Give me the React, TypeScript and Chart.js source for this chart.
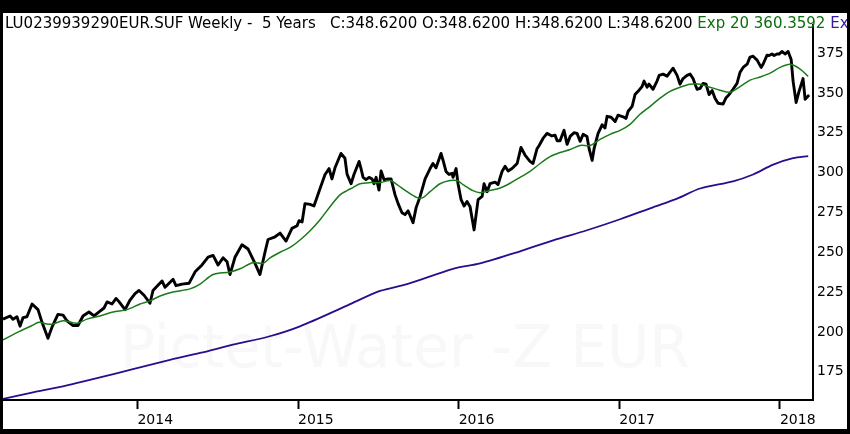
import React, { useEffect, useRef } from "react";
import { Chart, registerables } from "chart.js";

Chart.register(...registerables);

// ---- data (decimal years, values) ----
const priceDates = [
  2013.163, 2013.207, 2013.225, 2013.25, 2013.269, 2013.288, 2013.312, 2013.344, 2013.381, 2013.406,
  2013.443, 2013.468, 2013.505, 2013.537, 2013.561, 2013.599, 2013.63, 2013.661, 2013.698, 2013.73,
  2013.767, 2013.792, 2013.811, 2013.842, 2013.867, 2013.885, 2013.923, 2013.954, 2013.985, 2014.01,
  2014.041, 2014.078, 2014.097, 2014.153, 2014.172, 2014.222, 2014.24, 2014.278, 2014.321, 2014.359,
  2014.402, 2014.44, 2014.471, 2014.502, 2014.533, 2014.558, 2014.576, 2014.608, 2014.651, 2014.689,
  2014.732, 2014.763, 2014.794, 2014.813, 2014.857, 2014.888, 2014.925, 2014.962, 2014.994, 2015.006,
  2015.025, 2015.043, 2015.075, 2015.099, 2015.137, 2015.168, 2015.193, 2015.211, 2015.23, 2015.267,
  2015.292, 2015.305, 2015.33, 2015.348, 2015.38, 2015.392, 2015.405, 2015.423, 2015.442, 2015.461,
  2015.473, 2015.486, 2015.504, 2015.517, 2015.535, 2015.56, 2015.579, 2015.604, 2015.623, 2015.647,
  2015.666, 2015.685, 2015.716, 2015.735, 2015.76, 2015.791, 2015.822, 2015.84, 2015.859, 2015.89,
  2015.903, 2015.921, 2015.94, 2015.959, 2015.965, 2015.984, 2015.996, 2016.015, 2016.034, 2016.052,
  2016.071, 2016.096, 2016.121, 2016.146, 2016.158, 2016.177, 2016.195, 2016.227, 2016.245, 2016.27,
  2016.289, 2016.308, 2016.332, 2016.364, 2016.388, 2016.413, 2016.444, 2016.463, 2016.488, 2016.501,
  2016.525, 2016.55, 2016.581, 2016.6, 2016.613, 2016.631, 2016.656, 2016.675, 2016.694, 2016.718,
  2016.737, 2016.756, 2016.775, 2016.799, 2016.812, 2016.831, 2016.843, 2016.868, 2016.893, 2016.911,
  2016.924, 2016.949, 2016.974, 2016.992, 2017.024, 2017.042, 2017.055, 2017.08, 2017.098, 2017.117,
  2017.142, 2017.154, 2017.173, 2017.185, 2017.21, 2017.235, 2017.248, 2017.273, 2017.298, 2017.316,
  2017.335, 2017.36, 2017.378, 2017.397, 2017.422, 2017.441, 2017.459, 2017.484, 2017.503, 2017.522,
  2017.54, 2017.559, 2017.578, 2017.596, 2017.615, 2017.646, 2017.665, 2017.684, 2017.708, 2017.733,
  2017.752, 2017.771, 2017.796, 2017.814, 2017.833, 2017.858, 2017.883, 2017.895, 2017.92, 2017.933,
  2017.951, 2017.964, 2017.982, 2017.995, 2018.014, 2018.032, 2018.051, 2018.07, 2018.082, 2018.101,
  2018.119, 2018.144, 2018.157, 2018.182,
];
const priceValues = [
  208, 210, 208, 209.5, 203.6, 209, 209.5, 217.5, 214, 206,
  196, 203, 211, 210.5, 207, 204, 204, 210, 212.5, 210,
  213, 215, 218.8, 217.5, 221, 219, 214, 220, 224, 226,
  223, 218, 226, 232, 228, 233, 229, 230, 230.5, 237.7,
  242, 247, 248, 242, 246.5, 244, 236, 247, 254.7, 252,
  243, 236, 250, 258, 259.7, 262, 257, 265, 266.6, 269.8,
  269, 280.5, 280, 279, 290, 298.8, 302.5, 296, 303, 312,
  309, 299, 293, 298.8, 307, 302.5, 297, 295.6, 297, 296,
  293, 297, 289, 301, 295.6, 296, 296, 286, 280.5, 274.8,
  273.6, 276, 268.5, 278, 285, 296, 302.5, 305.7, 303, 312,
  307.6, 300.7, 298.8, 299.5, 297, 302.5, 293, 283, 279, 281.8,
  278.6, 264, 283, 285, 293, 288, 293, 294, 292.5, 300.7,
  304, 301, 302.5, 305.7, 315.8, 311, 307, 305.7, 315, 317,
  321.4, 324.6, 323, 323.5, 320, 320, 326.5, 317.7, 322.7, 325,
  324.6, 319.6, 324, 322.7, 315, 307.6, 315, 324.6, 330, 328,
  335.3, 334.7, 332, 336, 335, 334, 338.5, 341.6, 349, 351,
  354, 357.4, 353.6, 355.5, 352.3, 357.4, 361, 361.8, 360.5, 363,
  365.5, 361, 355.5, 359, 361, 361.8, 359, 352.3, 352.8, 356,
  355.5, 349, 351.5, 346.7, 343.5, 343, 347, 349, 352.3, 356,
  363, 366, 368, 372.5, 373, 370.6, 366, 368, 373.7, 373.5,
  374.4, 373.5, 374.4, 374.4, 376, 374.4, 376, 371, 357.4, 344,
  351, 359, 346, 348.62,
];

const ema20Dates = [
  2013.163, 2013.269, 2013.344, 2013.387, 2013.437, 2013.474, 2013.537, 2013.624, 2013.686, 2013.767,
  2013.848, 2013.935, 2014.016, 2014.078, 2014.141, 2014.222, 2014.327, 2014.39, 2014.471, 2014.576,
  2014.639, 2014.72, 2014.782, 2014.826, 2014.888, 2014.95, 2015.012, 2015.075, 2015.137, 2015.199,
  2015.261, 2015.305, 2015.342, 2015.386, 2015.448, 2015.51, 2015.573, 2015.616, 2015.679, 2015.741,
  2015.778, 2015.822, 2015.884, 2015.946, 2015.99, 2016.027, 2016.089, 2016.133, 2016.195, 2016.258,
  2016.32, 2016.382, 2016.444, 2016.507, 2016.569, 2016.631, 2016.694, 2016.756, 2016.818, 2016.88,
  2016.942, 2017.005, 2017.067, 2017.129, 2017.192, 2017.254, 2017.316, 2017.378, 2017.441, 2017.503,
  2017.565, 2017.627, 2017.69, 2017.752, 2017.814, 2017.877, 2017.939, 2018.001, 2018.063, 2018.126,
  2018.176,
];
const ema20Values = [
  195, 200.5, 204, 206, 205, 205, 207, 205.5, 208, 210,
  212.5, 214, 217.5, 219.5, 222.5, 225, 227, 230, 236, 237.6,
  239.6, 243.5, 243, 246.5, 250, 253, 257.7, 263.5, 270.4, 278.6,
  286, 288.7, 290.6, 293, 293.7, 293.7, 295, 292.5, 288, 284.3,
  284.3, 288, 293, 295, 295, 292.5, 288.7, 287.4, 288.7, 290.3,
  293.3, 297, 300.7, 305.7, 310, 312.6, 314.5, 317, 317, 320.8,
  324, 326.5, 330.3, 336.6, 341.6, 346.7, 351, 353.6, 355.5, 355.5,
  353.6, 351.7, 350.4, 354, 358, 360, 362.4, 366, 368, 365,
  360.36,
];

const ema200Dates = [
  2013.163, 2013.35, 2013.561, 2013.767, 2013.972, 2014.184, 2014.39, 2014.595, 2014.807, 2015.012,
  2015.305, 2015.51, 2015.679, 2015.965, 2016.133, 2016.382, 2016.588, 2016.799, 2017.005, 2017.21,
  2017.36, 2017.503, 2017.708, 2017.833, 2017.958, 2018.082, 2018.176,
];
const ema200Values = [
  158, 162, 166.5, 171.5, 176.6, 182, 186.8, 192, 196.8, 203.5,
  216.5, 225.7, 230, 239.6, 243, 250.6, 257.5, 263.8, 270.7, 278.2,
  283.6, 290, 294.5, 298.8, 305, 309, 310.3,
];

const yearTicks = [2014, 2015, 2016, 2017, 2018];
const valueTicks = [175, 200, 225, 250, 275, 300, 325, 350, 375];

const headerParts = [
  { text: "LU0239939290EUR.SUF Weekly -  5 Years   C:348.6200 O:348.6200 H:348.6200 L:348.6200 ", color: "#000000" },
  { text: "Exp 20 360.3592 ", color: "#0a6e0a" },
  { text: "Exp", color: "#3a1aa0" },
];
const watermarkText = "Pictet-Water -Z EUR";

const toPoints = (xs: number[], ys: number[]) => xs.map((x, i) => ({ x, y: ys[i] }));

const FONT = "'DejaVu Sans', Verdana, sans-serif";

export default function App() {
  const canvasRef = useRef<HTMLCanvasElement | null>(null);

  useEffect(() => {
    document.body.style.margin = "0";
    const canvas = canvasRef.current;
    if (!canvas) return;

    const watermark = {
      id: "watermark",
      beforeDatasetsDraw(chart: any) {
        const { ctx, chartArea } = chart;
        ctx.save();
        ctx.fillStyle = "#f8f8f8";
        ctx.font = `58px ${FONT}`;
        ctx.textAlign = "left";
        ctx.textBaseline = "alphabetic";
        ctx.fillText(watermarkText, chartArea.left + 117, chartArea.bottom - 33);
        ctx.restore();
      },
    };

    const chart = new Chart(canvas, {
      type: "line",
      data: {
        datasets: [
          {
            label: "Exp 200",
            data: toPoints(ema200Dates, ema200Values),
            borderColor: "#2a0c8c",
            borderWidth: 1.8,
            pointRadius: 0,
            tension: 0.3,
          },
          {
            label: "Exp 20",
            data: toPoints(ema20Dates, ema20Values),
            borderColor: "#1a7a1a",
            borderWidth: 1.5,
            pointRadius: 0,
            tension: 0.3,
          },
          {
            label: "Price",
            data: toPoints(priceDates, priceValues),
            borderColor: "#000000",
            borderWidth: 2.9,
            pointRadius: 0,
            tension: 0,
            borderJoinStyle: "round",
          },
        ],
      },
      options: {
        animation: false,
        responsive: false,
        devicePixelRatio: 1,
        layout: { padding: { top: 12, left: 0, right: 0, bottom: 0 } },
        plugins: {
          legend: { display: false },
          tooltip: { enabled: false },
          title: { display: false },
        },
        scales: {
          x: {
            type: "linear",
            min: 2013.163,
            max: 2018.206,
            afterBuildTicks: (scale: any) => {
              scale.ticks = yearTicks.map((v) => ({ value: v }));
            },
            afterFit: (scale: any) => {
              scale.height = 29;
            },
            grid: {
              drawOnChartArea: false,
              drawTicks: true,
              tickLength: 9,
              tickWidth: 2,
              tickColor: "#000",
              color: "#000",
            },
            border: { display: true, color: "#000", width: 2 },
            ticks: {
              autoSkip: false,
              maxRotation: 0,
              align: "start",
              padding: 3,
              color: "#000",
              font: { family: FONT, size: 14 },
              callback: (v: any) => String(v),
            },
          },
          y: {
            type: "linear",
            position: "right",
            min: 157.26,
            max: 392.37,
            afterBuildTicks: (scale: any) => {
              scale.ticks = valueTicks.map((v) => ({ value: v }));
            },
            afterFit: (scale: any) => {
              scale.width = 34;
            },
            grid: { drawOnChartArea: false, drawTicks: false },
            border: { display: true, color: "#000", width: 2 },
            ticks: {
              padding: 4,
              color: "#000",
              font: { family: FONT, size: 14 },
              callback: (v: any) => String(v),
            },
          },
        },
      },
      plugins: [watermark],
    } as any);

    return () => chart.destroy();
  }, []);

  return (
    <div style={{ position: "relative", width: 850, height: 434, background: "#000", overflow: "hidden" }}>
      <div style={{ position: "absolute", left: 3, top: 13, width: 844, height: 416, background: "#fff" }}>
        <canvas ref={canvasRef} width={844} height={416} style={{ display: "block", width: 844, height: 416 }} />
      </div>
      <div
        style={{
          position: "absolute",
          left: 5,
          top: 15,
          width: 842,
          overflow: "hidden",
          whiteSpace: "pre",
          fontFamily: FONT,
          fontSize: 15,
          lineHeight: "17px",
        }}
      >
        {headerParts.map((p, i) => (
          <span key={i} style={{ color: p.color }}>
            {p.text}
          </span>
        ))}
      </div>
    </div>
  );
}
